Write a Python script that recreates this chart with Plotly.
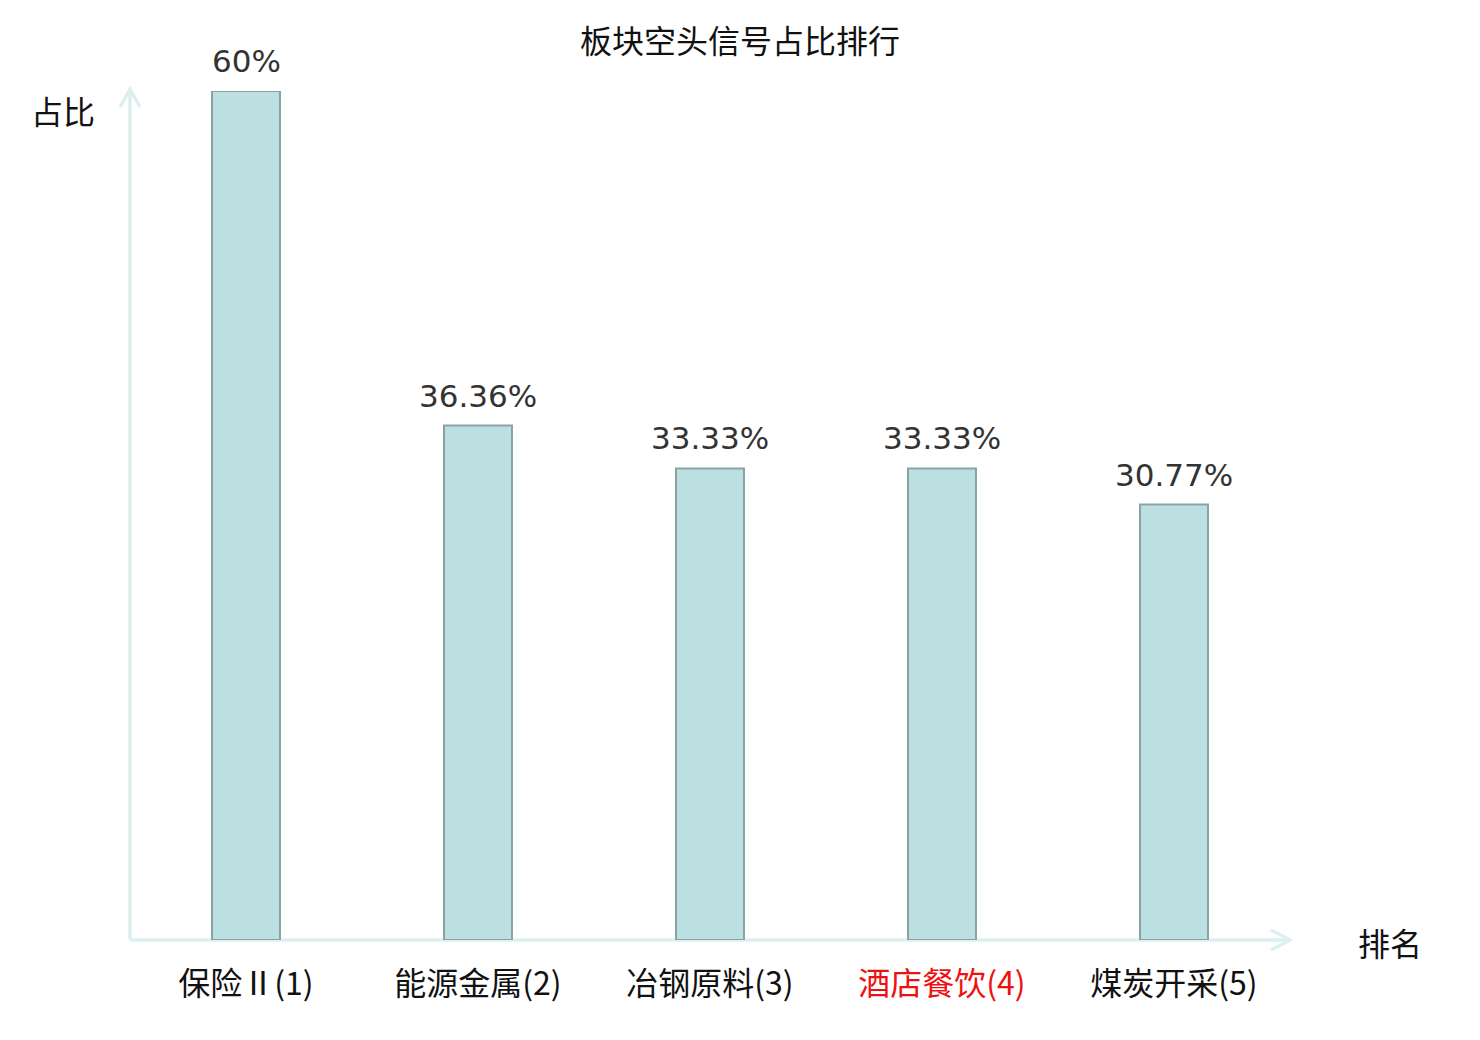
import plotly.graph_objects as go

categories = ["保险Ⅱ(1)", "能源金属(2)", "冶钢原料(3)", "酒店餐饮(4)", "煤炭开采(5)"]
values = [60, 36.36, 33.33, 33.33, 30.77]
value_labels = ["60%", "36.36%", "33.33%", "33.33%", "30.77%"]
highlight_index = 3

W, H = 1480, 1040
OFF = 8  # page margin compensation
L, R, T, B = 130 - OFF, 190 + OFF, 91 - OFF, 100 + OFF
pw, ph = W - L - R, H - T - B

def px(x):
    return (x - OFF - L) / pw

def py(y):
    return (H - B - (y - OFF)) / ph

axis_col = "#dcf1ef"
cjk = "Noto Sans CJK SC"
num_font = "DejaVu Sans, Noto Sans CJK SC"

ticktext = []
for i, c in enumerate(categories):
    if i == highlight_index:
        ticktext.append('<span style="color:#ee1111">' + c + '</span>')
    else:
        ticktext.append(c)

fig = go.Figure()
fig.add_trace(go.Bar(
    x=list(range(len(categories))), y=values,
    marker=dict(color="#bce0e2", line=dict(color="#88a3a4", width=2)),
    width=0.293,
    hoverinfo="skip",
))

annotations = []
for i, (v, t) in enumerate(zip(values, value_labels)):
    annotations.append(dict(x=i, y=v, xref="x", yref="y", text=t, showarrow=False,
                            yanchor="bottom", yshift=10,
                            font=dict(family=num_font, size=31, color="#333333")))
annotations.append(dict(x=px(63), y=py(110), xref="paper", yref="paper", text="占比",
                        showarrow=False, xanchor="center", yanchor="middle",
                        font=dict(family=cjk, size=32, color="#111111")))
annotations.append(dict(x=px(1390), y=py(942), xref="paper", yref="paper", text="排名",
                        showarrow=False, xanchor="center", yanchor="middle",
                        font=dict(family=cjk, size=32, color="#111111")))

line = dict(color=axis_col, width=3.5)
shapes = [
    dict(type="line", xref="paper", yref="paper", x0=0, y0=0, x1=0, y1=py(90), line=line, layer="below"),
    dict(type="line", xref="paper", yref="paper", x0=0, y0=0, x1=px(1289), y1=0, line=line, layer="below"),
    dict(type="path", xref="paper", yref="paper",
         path=f"M {px(120)},{py(107)} L {px(130)},{py(89)} L {px(140)},{py(107)}",
         line=line, layer="below"),
    dict(type="path", xref="paper", yref="paper",
         path=f"M {px(1271)},{py(930)} L {px(1290)},{py(940)} L {px(1271)},{py(950)}",
         line=line, layer="below"),
]

fig.update_layout(
    width=W, height=H,
    margin=dict(l=L, r=R, t=T, b=B, autoexpand=False),
    paper_bgcolor="white", plot_bgcolor="white",
    showlegend=False,
    title=dict(text="板块空头信号占比排行", x=(740 - OFF) / W, xanchor="center", xref="container",
               y=1 - (42 - OFF) / H, yref="container", yanchor="middle",
               font=dict(family=cjk, size=32, color="#111111")),
    xaxis=dict(range=[-0.5, len(categories) - 0.5], tickvals=list(range(len(categories))),
               ticktext=ticktext, showgrid=False, zeroline=False, showline=False,
               ticks="", ticklabelstandoff=22,
               tickfont=dict(family=cjk, size=32, color="#111111"), fixedrange=True),
    yaxis=dict(range=[0, 60], showgrid=False, zeroline=False, showline=False,
               showticklabels=False, ticks="", fixedrange=True),
    annotations=annotations,
    shapes=shapes,
)

fig.write_html("out.html")
